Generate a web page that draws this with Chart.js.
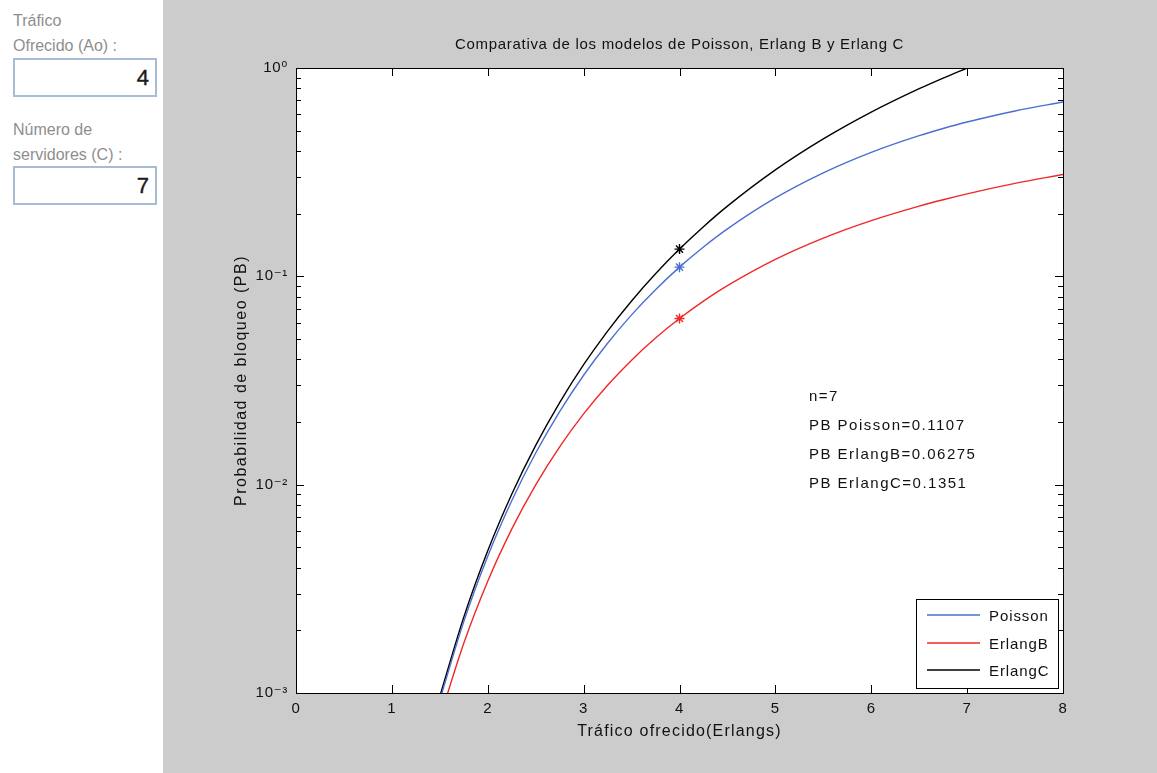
<!DOCTYPE html>
<html lang="es">
<head>
<meta charset="UTF-8">
<title>Comparativa Poisson, Erlang B y Erlang C</title>
<script src="https://cdn.jsdelivr.net/npm/chart.js"></script>
<style>
  html, body { margin: 0; padding: 0; }
  body { width: 1157px; height: 773px; position: relative; overflow: hidden; background: #fff;
         font-family: "Liberation Sans", Arial, sans-serif; }
  .etiqueta { position: absolute; left: 13px; color: #8e8e8e; font-size: 16px; line-height: 25px; }
  .caja { position: absolute; left: 13px; width: 144px; height: 39px; box-sizing: border-box;
          border: 2px solid #a8bcd6; background: #fff; color: #1a1a1a; font-size: 22px;
          line-height: 35px; text-align: right; padding-right: 6px; -webkit-text-stroke: 0.4px #1a1a1a; }
  .figura { position: absolute; left: 163px; top: 0; width: 994px; height: 773px; background: #cccccc; }
</style>
</head>
<body>
  <div class="etiqueta" style="top:8px">Tráfico<br>Ofrecido (Ao) :</div>
  <div class="caja" style="top:58px">4</div>
  <div class="etiqueta" style="top:117px">Número de<br>servidores (C) :</div>
  <div class="caja" style="top:166px">7</div>

  <div class="figura">
    <canvas id="grafica" width="994" height="773"></canvas>
  </div>

<script>
// tráfico ofrecido (Erlangs) y probabilidad de bloqueo, n = 7
const trafico  = [1.5, 1.75, 2, 2.25, 2.5, 2.75, 3, 3.25, 3.5, 3.75, 4, 4.25, 4.5, 5, 5.5, 6, 6.5, 6.75, 7, 7.5, 8];
const poisson  = [0.000926, 0.002201, 0.004534, 0.008372, 0.014187, 0.02243, 0.033509, 0.04773, 0.065299, 0.086285,
                  0.1107, 0.138315, 0.168949, 0.237817, 0.313959, 0.393686, 0.473489, 0.512417, 0.550289, 0.621848, 0.686628];
const erlangB  = [0.000757, 0.001734, 0.003441, 0.006119, 0.009983, 0.015198, 0.021864, 0.030012, 0.039608, 0.050563,
                  0.06275, 0.076008, 0.09017, 0.120519, 0.152503, 0.185054, 0.217366, 0.233246, 0.248871, 0.279209, 0.308166];
const erlangC  = [0.000963, 0.002311, 0.004811, 0.008991, 0.015443, 0.024789, 0.037646, 0.054603, 0.076199, 0.102903,
                  0.1351, 0.173137, 0.217221, 0.32415, 0.456449, 0.61383, 0.795429, 0.89493, 1, null, null];

const servidores = 7;
const traficoActual = 4;
const pbActual = [0.1107, 0.06275, 0.1351]; // Poisson, ErlangB, ErlangC
const nombres  = ['Poisson', 'ErlangB', 'ErlangC'];
const colores  = ['#4a6fd0', '#f02828', '#000000'];

const ticksX = [0, 1, 2, 3, 4, 5, 6, 7, 8];
const decadasY = [0.001, 0.01, 0.1];
const ticksY = [];
decadasY.forEach(d => { for (let m = 1; m <= 9; m++) ticksY.push(+(m * d).toPrecision(3)); });
ticksY.push(1);
const sup = { '0': '⁰', '1': '¹', '2': '²', '3': '³', '-': '⁻' };

const familia = '"Liberation Sans", "DejaVu Sans", Arial, sans-serif';
const fuente = { family: familia, size: 15 };

function puntos(valores) {
  return trafico.map((x, i) => ({ x: x, y: valores[i] }));
}

const series = [poisson, erlangB, erlangC];
const datasets = [];
series.forEach((s, i) => {
  datasets.push({
    label: nombres[i], data: puntos(s), borderColor: colores[i], borderWidth: 1.4,
    pointRadius: 0, cubicInterpolationMode: 'monotone', spanGaps: false
  });
});
// asteriscos en el tráfico actual
series.forEach((s, i) => {
  datasets.push({
    label: 'marca' + i, data: [{ x: traficoActual, y: pbActual[i] }], showLine: false,
    pointStyle: 'star', pointRadius: 5, borderColor: colores[i], borderWidth: 1.4
  });
});

function esPotencia(v) {
  const l = Math.log10(v);
  return Math.abs(l - Math.round(l)) < 1e-9;
}

function texto(ctx, t, x, y, esp, tam) {
  ctx.letterSpacing = esp + 'px';
  ctx.font = tam + 'px ' + familia;
  ctx.fillText(t, x, y);
}

const decorado = {
  id: 'decorado',
  beforeDraw(chart) {
    chart.ctx.letterSpacing = '0.7px';
  },
  beforeDatasetsDraw(chart) {
    const a = chart.chartArea;
    chart.ctx.save();
    chart.ctx.fillStyle = '#fff';
    chart.ctx.fillRect(a.left, a.top, a.right - a.left, a.bottom - a.top);
    chart.ctx.restore();
  },
  afterDraw(chart) {
    const ctx = chart.ctx;
    const a = chart.chartArea;
    const xs = chart.scales.x, ys = chart.scales.y;
    ctx.save();
    ctx.strokeStyle = '#000';
    ctx.lineWidth = 1;

    // marco de los ejes
    ctx.strokeRect(Math.round(a.left) + 0.5, Math.round(a.top) + 0.5, Math.round(a.right - a.left), Math.round(a.bottom - a.top));

    // marcas hacia dentro
    ctx.beginPath();
    ticksX.forEach(v => {
      const px = Math.round(xs.getPixelForValue(v)) + 0.5;
      ctx.moveTo(px, a.bottom); ctx.lineTo(px, a.bottom - 8);
      ctx.moveTo(px, a.top); ctx.lineTo(px, a.top + 8);
    });
    ticksY.forEach(v => {
      const py = Math.round(ys.getPixelForValue(v)) + 0.5;
      const l = esPotencia(v) ? 8 : 5;
      ctx.moveTo(a.left, py); ctx.lineTo(a.left + l, py);
      ctx.moveTo(a.right, py); ctx.lineTo(a.right - l, py);
    });
    ctx.stroke();

    ctx.fillStyle = '#111';
    ctx.textBaseline = 'middle';

    // títulos
    ctx.textAlign = 'center';
    const cx = (a.left + a.right) / 2;
    texto(ctx, 'Comparativa de los modelos de Poisson, Erlang B y Erlang C', cx, a.top - 23, 0.7, 15);
    texto(ctx, 'Tráfico ofrecido(Erlangs)', cx, a.bottom + 39, 1.2, 16);
    ctx.save();
    ctx.translate(a.left - 54, (a.top + a.bottom) / 2);
    ctx.rotate(-Math.PI / 2);
    texto(ctx, 'Probabilidad de bloqueo (PB)', 0, 0, 1.5, 16);
    ctx.restore();

    // texto con los resultados
    ctx.textAlign = 'left';
    const tx = xs.getPixelForValue(5.35);
    const ty = ys.getPixelForValue(0.0263);
    const lineas = ['n=' + servidores,
                    'PB Poisson=' + pbActual[0],
                    'PB ErlangB=' + pbActual[1],
                    'PB ErlangC=' + pbActual[2]];
    lineas.forEach((t, i) => texto(ctx, t, tx, ty + i * 29, 1.5, 15));

    // leyenda
    const w = 142, h = 89;
    const lx = a.right - 5 - w, ly = a.bottom - 5 - h;
    ctx.fillStyle = '#fff';
    ctx.fillRect(lx, ly, w, h);
    ctx.strokeRect(Math.round(lx) + 0.5, Math.round(ly) + 0.5, w, h);
    const filas = [16, 44, 71];
    nombres.forEach((nom, i) => {
      const y = ly + filas[i];
      ctx.strokeStyle = colores[i];
      ctx.lineWidth = 1.4;
      ctx.beginPath();
      ctx.moveTo(lx + 11, y); ctx.lineTo(lx + 64, y);
      ctx.stroke();
      ctx.fillStyle = '#111';
      texto(ctx, nom, lx + 73, y + 2, 0.9, 15);
    });
    ctx.restore();
  }
};

new Chart(document.getElementById('grafica'), {
  type: 'line',
  data: { datasets: datasets },
  options: {
    responsive: false,
    animation: false,
    events: [],
    layout: { padding: { top: 68, right: 94, bottom: 0, left: 0 } },
    plugins: { legend: { display: false }, title: { display: false }, tooltip: { enabled: false } },
    scales: {
      x: {
        type: 'linear', min: 0, max: 8,
        afterBuildTicks: s => { s.ticks = ticksX.map(v => ({ value: v })); },
        ticks: { font: fuente, color: '#111', padding: 7, maxRotation: 0 },
        grid: { display: false, drawTicks: false },
        border: { display: false },
        afterFit: s => { s.height = 80; }
      },
      y: {
        type: 'logarithmic', min: 0.001, max: 1,
        afterBuildTicks: s => { s.ticks = ticksY.map(v => ({ value: v, major: esPotencia(v) })); },
        ticks: {
          font: fuente, color: '#111', padding: 8, autoSkip: false,
          callback: v => {
            if (!esPotencia(v)) return '';
            const e = String(Math.round(Math.log10(v)));
            return '10' + e.split('').map(c => sup[c]).join('');
          }
        },
        grid: { display: false, drawTicks: false },
        border: { display: false },
        afterFit: s => { s.width = 133; }
      }
    }
  },
  plugins: [decorado]
});
</script>
</body>
</html>
